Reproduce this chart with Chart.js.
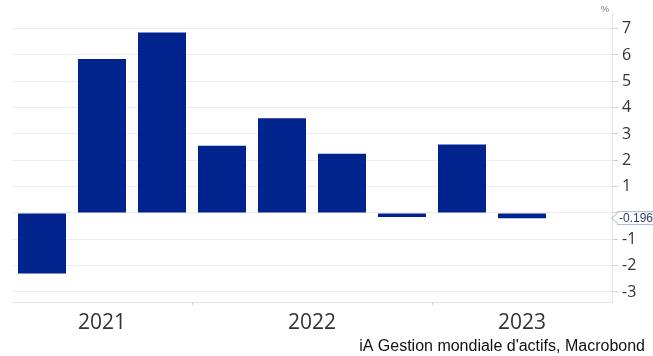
<!DOCTYPE html>
<html><head><meta charset="utf-8">
<script src="https://cdn.jsdelivr.net/npm/chart.js@4/dist/chart.umd.min.js"></script>
<style>html,body{margin:0;padding:0;background:#fff}#wrap{width:653px;height:356px}</style>
</head><body><div id="wrap"><canvas id="c" width="653" height="356"></canvas></div>
<script>
const categories = ['2021 Q1','2021 Q2','2021 Q3','2021 Q4','2022 Q1','2022 Q2','2022 Q3','2022 Q4','2023 Q1','2023 Q2'];
const values = [-2.3, 5.85, 6.85, 2.55, 3.6, 2.25, -0.15, 2.6, -0.196, null];
const yearLabels = ['2021','2022','2023'];
const yearSpans = [[0,2],[3,6],[7,9]];
const yTicks = [-3,-2,-1,0,1,2,3,4,5,6,7];
const lastValueLabel = '-0.196';
const unitLabel = '%';
const sourceText = "iA Gestion mondiale d'actifs, Macrobond";

const decor = {
  id:'decor',
  afterDraw(chart){
    const ctx = chart.ctx, x = chart.scales.x, y = chart.scales.y, ca = chart.chartArea;
    ctx.save();
    ctx.fillStyle = '#333'; ctx.font = '21px "Open Sans", "Noto Sans", sans-serif';
    ctx.textAlign = 'center'; ctx.textBaseline = 'middle';
    yearSpans.forEach((s,i)=>{
      const a = x.getPixelForValue(s[0]), b = x.getPixelForValue(s[1]);
      ctx.fillText(yearLabels[i], (a+b)/2, 323);
      if (i>0){
        const half = (x.getPixelForValue(1)-x.getPixelForValue(0))/2;
        const sx = a - half;
        ctx.strokeStyle = '#d0d0d0'; ctx.lineWidth = 1;
        ctx.beginPath(); ctx.moveTo(Math.round(sx)+0.5, ca.bottom); ctx.lineTo(Math.round(sx)+0.5, ca.bottom+3); ctx.stroke();
      }
    });
    ctx.fillStyle = '#777'; ctx.font = '9px "Liberation Sans", Arial, sans-serif';
    ctx.textAlign = 'center';
    ctx.fillText(unitLabel, 605, 10);
    ctx.fillStyle = '#111'; ctx.font = '16px "Liberation Sans", Arial, sans-serif';
    ctx.textAlign = 'right';
    ctx.fillText(sourceText, 645, 347);
    const last = values[8];
    const py = y.getPixelForValue(last);
    const bx = 617, bw = 40, bh = 13;
    ctx.fillStyle = '#fff'; ctx.strokeStyle = '#a9b6cc'; ctx.lineWidth = 1;
    ctx.beginPath();
    ctx.moveTo(611.5, py);
    ctx.lineTo(bx+0.5, py-5);
    ctx.lineTo(bx+0.5, py-bh/2);
    ctx.lineTo(bx+bw, py-bh/2);
    ctx.lineTo(bx+bw, py+bh/2);
    ctx.lineTo(bx+0.5, py+bh/2);
    ctx.lineTo(bx+0.5, py+5);
    ctx.closePath(); ctx.fill(); ctx.stroke();
    ctx.fillStyle = '#2b3f6e'; ctx.font = '12px "Liberation Sans", Arial, sans-serif';
    ctx.textAlign = 'left'; ctx.textBaseline = 'middle';
    ctx.fillText(lastValueLabel, bx+2, py+0.5);
    ctx.restore();
  }
};

new Chart(document.getElementById('c'), {
  type:'bar',
  data:{ labels: categories, datasets:[{ data: values, backgroundColor:'#00238e', borderWidth:0, barPercentage:0.8, categoryPercentage:1.0 }]},
  options:{
    responsive:false, animation:false, devicePixelRatio:1,
    layout:{ padding:{ left:12, top:12, right:0, bottom:0 } },
    plugins:{ legend:{display:false}, tooltip:{enabled:false} },
    scales:{
      x:{
        grid:{ display:false },
        border:{ display:true, color:'#e3e3e3' },
        ticks:{ display:false },
        afterFit(s){ s.height = 54; }
      },
      y:{
        position:'right', min:-3.38, max:7.57,
        afterBuildTicks(s){ s.ticks = yTicks.map(v=>({value:v})); },
        grid:{ color:'#ececec', tickLength:6, tickColor:'#cfcfcf' },
        border:{ display:true, color:'#e3e3e3' },
        ticks:{ padding:4, color:'#333', font:{ size:16, family:'"Open Sans", "Noto Sans", sans-serif' },
          callback(v){ return v===0 ? '' : String(v); } },
        afterFit(s){ s.width = 41; }
      }
    }
  },
  plugins:[decor]
});
</script></body></html>
